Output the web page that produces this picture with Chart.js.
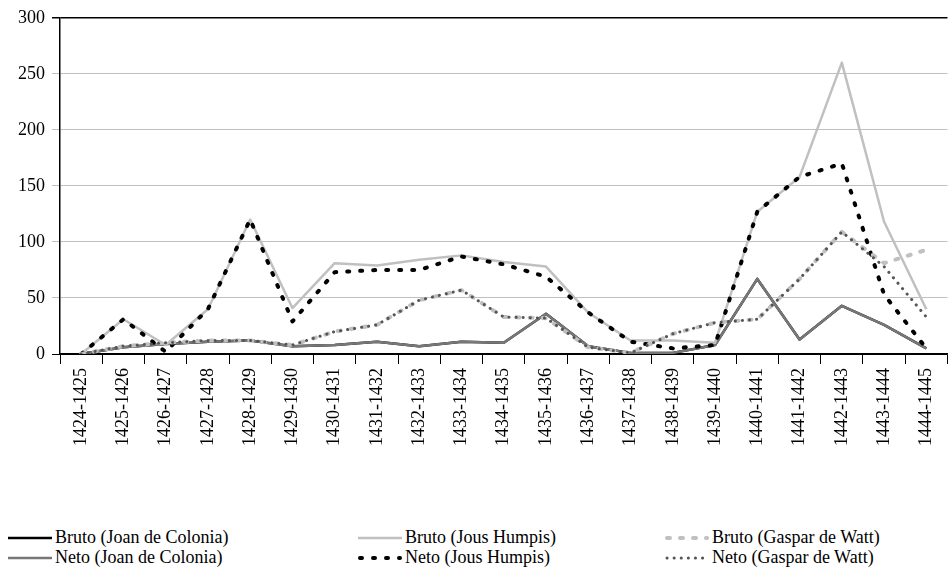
<!DOCTYPE html>
<html>
<head>
<meta charset="utf-8">
<script src="https://cdn.jsdelivr.net/npm/chart.js@4/dist/chart.umd.min.js"></script>
<style>
  body { margin: 0; background: #fff; font-family: "Liberation Serif", "DejaVu Serif", "Noto Serif", "Times New Roman", Times, serif; }
  #wrap { position: relative; width: 952px; height: 574px; }
  #legend { position: absolute; left: 0; top: 527px; width: 952px; }
  .item { position: absolute; display: flex; align-items: center; font-size: 18px; color: #000; white-space: nowrap; }
  .item svg { margin-right: 3px; }
</style>
</head>
<body>
<div id="wrap">
  <canvas id="chart" width="952" height="474"></canvas>
  <div id="legend"></div>
</div>
<script>
// Periodos (eje X)
const periodos = ['1424-1425', '1425-1426', '1426-1427', '1427-1428', '1428-1429', '1429-1430', '1430-1431',
  '1431-1432', '1432-1433', '1433-1434', '1434-1435', '1435-1436', '1436-1437', '1437-1438', '1438-1439',
  '1439-1440', '1440-1441', '1441-1442', '1442-1443', '1443-1444', '1444-1445'];

// Valores
const brutoJoan   = [0, 6, 9, 11, 12, 7, 8, 11, 7, 11, 10, 36, 7, 1, 1, 8, 67, 13, 43, 26, 5];
const netoJoan    = [0, 6, 9, 11, 12, 7, 8, 11, 7, 11, 10, 36, 7, 1, 1, 8, 67, 13, 43, 26, 5];
const brutoJous   = [0, 31, 8, 40, 120, 41, 81, 79, 84, 88, 82, 78, 37, 12, 12, 10, 127, 158, 260, 118, 40];
const netoJous    = [0, 31, 2, 40, 120, 29, 73, 75, 75, 87, 80, 69, 37, 11, 5, 8, 127, 158, 170, 53, 5];
const brutoGaspar = [0, 7, 10, 12, 12, 8, 20, 26, 48, 57, 33, 32, 6, 1, 18, 28, 31, 67, 109, 81, 93];
const netoGaspar  = [0, 7, 10, 12, 12, 8, 20, 26, 48, 57, 33, 32, 6, 1, 18, 28, 31, 67, 109, 78, 33];

const yTicks = [0, 50, 100, 150, 200, 250, 300];

const FONT = '"Liberation Serif", "DejaVu Serif", "Noto Serif", "Times New Roman", Times, serif';

// Estilos de cada serie (en el orden de dibujo: la ultima queda encima)
const series = [
  { label: 'Bruto (Joan de Colonia)', data: brutoJoan, color: '#000000', width: 2.5, dash: [], cap: 'butt' },
  { label: 'Neto (Joan de Colonia)', data: netoJoan, color: '#777777', width: 2.5, dash: [], cap: 'butt' },
  { label: 'Bruto (Jous Humpis)', data: brutoJous, color: '#c0c0c0', width: 2.5, dash: [], cap: 'butt' },
  { label: 'Neto (Jous Humpis)', data: netoJous, color: '#000000', width: 4, dash: [2, 11], cap: 'round' },
  { label: 'Bruto (Gaspar de Watt)', data: brutoGaspar, color: '#c0c0c0', width: 4, dash: [3, 10], cap: 'round' },
  { label: 'Neto (Gaspar de Watt)', data: netoGaspar, color: '#555555', width: 3, dash: [0.1, 7], cap: 'round' }
];

const datasets = series.map((s, i) => ({
  label: s.label,
  data: s.data,
  borderColor: s.color,
  backgroundColor: s.color,
  borderWidth: s.width,
  borderDash: s.dash,
  borderCapStyle: s.cap,
  borderJoinStyle: 'round',
  pointRadius: 0,
  tension: 0,
  fill: false,
  order: series.length - 1 - i
}));

const ctx = document.getElementById('chart').getContext('2d');
new Chart(ctx, {
  type: 'line',
  data: { labels: periodos, datasets: datasets },
  options: {
    responsive: false,
    animation: false,
    devicePixelRatio: 1,
    layout: { padding: { top: 12, right: 2, left: 0, bottom: 0 } },
    plugins: { legend: { display: false }, tooltip: { enabled: false } },
    scales: {
      x: {
        offset: true,
        grid: { display: true, drawOnChartArea: false, drawTicks: true, tickLength: 10, color: '#000', offset: true },
        border: { display: true, color: '#000', width: 1.5 },
        ticks: { color: '#000', font: { family: FONT, size: 18 }, minRotation: 90, maxRotation: 90, padding: 4, autoSkip: false },
        afterFit: (scale) => { scale.height = 120; }
      },
      y: {
        min: 0,
        max: 300,
        afterBuildTicks: (scale) => { scale.ticks = yTicks.map((v) => ({ value: v })); },
        grid: {
          color: (c) => (c.tick && (c.tick.value === 300 || c.tick.value === 0)) ? '#000' : '#c0c0c0',
          lineWidth: (c) => (c.tick && c.tick.value === 300) ? 1.5 : 1,
          tickLength: 8
        },
        border: { display: true, color: '#000', width: 1.5 },
        ticks: { color: '#000', font: { family: FONT, size: 18 }, padding: 7 },
        afterFit: (scale) => { scale.width = 60; }
      }
    }
  }
});

// Leyenda en HTML (3 columnas, 2 filas): [serie, x, fila]
const legendOrder = [
  [0, 8, 0], [2, 358, 0], [4, 665, 0],
  [1, 8, 1], [3, 358, 1], [5, 665, 1]
];
const legend = document.getElementById('legend');
legendOrder.forEach(([idx, x, row]) => {
  const s = series[idx];
  const item = document.createElement('div');
  item.className = 'item';
  item.style.left = x + 'px';
  item.style.top = (row * 20) + 'px';
  const dash = s.dash.length ? `stroke-dasharray="${s.dash.join(' ')}"` : '';
  item.innerHTML = `<svg width="44" height="10"><line x1="${s.cap === 'round' ? 2 : 0}" y1="5" x2="${s.cap === 'round' ? 42 : 44}" y2="5" stroke="${s.color}" stroke-width="${s.width}" stroke-linecap="${s.cap}" ${dash}/></svg><span>${s.label}</span>`;
  legend.appendChild(item);
});
</script>
</body>
</html>
